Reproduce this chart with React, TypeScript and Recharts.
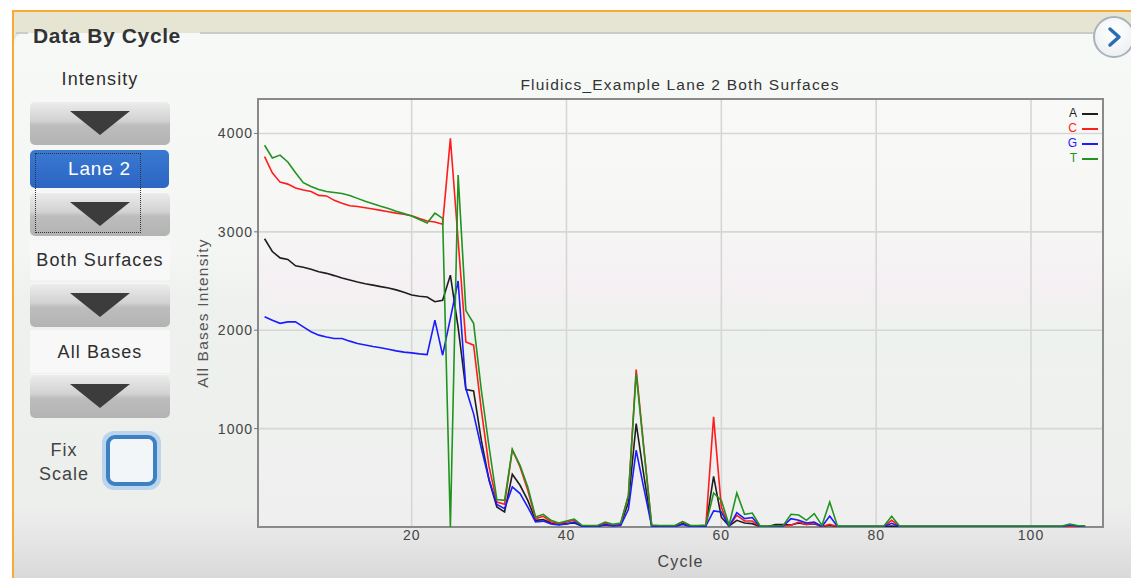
import React from "react";
import {
  LineChart,
  Line,
  XAxis,
  YAxis,
  CartesianGrid,
  ReferenceArea,
  Legend,
} from "recharts";

// intensity per cycle (cycles 1..107), one array per base
const intensityA = [
  2930, 2800, 2735, 2720, 2655, 2640, 2620, 2595, 2578, 2555,
  2530, 2510, 2490, 2472, 2458, 2443, 2430, 2410, 2385, 2358,
  2345, 2338, 2290, 2305, 2560, 2030, 1397, 1383, 880, 475,
  203, 153, 536, 424, 271, 68, 75, 41, 27, 34,
  41, 10, 8, 8, 30, 15, 25, 250, 1052, 520,
  12, 8, 8, 8, 35, 10, 8, 10, 515, 100,
  10, 68, 41, 34, 5, 5, 25, 25, 20, 41,
  27, 34, 5, 17, 5, 5, 5, 5, 5, 5,
  5, 10, 5, 5, 5, 5, 5, 5, 5, 5,
  5, 5, 5, 5, 5, 5, 5, 5, 5, 5,
  5, 5, 5, 5, 5, 8, 5,
];

const intensityC = [
  3765, 3600, 3505, 3485, 3445, 3425, 3410, 3370, 3365, 3320,
  3290, 3265, 3258, 3245, 3232, 3218, 3204, 3190, 3178, 3163,
  3135, 3110, 3100, 3078, 3950, 2915, 1881, 1848, 1187, 610,
  254, 231, 787, 610, 373, 85, 109, 51, 34, 51,
  68, 12, 10, 10, 40, 20, 35, 320, 1601, 800,
  15, 10, 10, 10, 55, 12, 10, 15, 1119, 200,
  10, 119, 61, 61, 5, 5, 8, 10, 17, 51,
  27, 41, 5, 27, 5, 5, 5, 5, 5, 5,
  8, 68, 8, 5, 5, 5, 5, 5, 5, 5,
  5, 5, 5, 5, 5, 5, 5, 5, 5, 5,
  5, 5, 5, 5, 10, 8, 5,
];

const intensityG = [
  2136, 2102, 2070, 2085, 2085, 2034, 1985, 1950, 1932, 1916,
  1916, 1889, 1865, 1850, 1835, 1822, 1807, 1790, 1777, 1770,
  1760, 1753, 2102, 1746, 2120, 2500, 1407, 1150, 800, 480,
  230, 187, 407, 340, 203, 51, 60, 30, 20, 30,
  50, 8, 5, 5, 20, 10, 15, 180, 780, 390,
  10, 5, 5, 5, 25, 5, 5, 10, 163, 153,
  5, 146, 85, 96, 5, 5, 5, 10, 85, 68,
  41, 51, 5, 112, 5, 5, 5, 5, 5, 5,
  5, 38, 5, 5, 5, 5, 5, 5, 5, 5,
  5, 5, 5, 5, 5, 5, 5, 5, 5, 5,
  5, 5, 5, 5, 20, 10, 5,
];

const intensityT = [
  3880, 3750, 3780, 3710, 3600, 3500, 3460, 3430, 3410, 3400,
  3390, 3370, 3340, 3310, 3285, 3260, 3238, 3210, 3185, 3160,
  3125, 3090, 3190, 3136, 0, 3577, 2200, 2070, 1390, 813,
  279, 271, 787, 627, 407, 102, 129, 68, 41, 61,
  81, 17, 15, 15, 50, 27, 40, 320, 1560, 780,
  20, 15, 15, 15, 55, 15, 15, 20, 346, 271,
  20, 346, 129, 142, 10, 10, 12, 15, 129, 122,
  68, 136, 17, 254, 10, 10, 10, 10, 10, 10,
  10, 109, 10, 10, 10, 10, 10, 10, 10, 10,
  10, 10, 10, 10, 10, 10, 10, 10, 10, 10,
  10, 10, 10, 10, 30, 15, 10,
];

const bases = ["A", "C", "G", "T"];
const baseColors = ["#1e1e1e", "#ff1c1c", "#1c1cff", "#1f941f"];
const xTicks = [20, 40, 60, 80, 100];
const yTicks = [1000, 2000, 3000, 4000];

const data = intensityA.map((a, i) => ({
  cycle: i + 1,
  A: a,
  C: intensityC[i],
  G: intensityG[i],
  T: intensityT[i],
}));

const FONT = '"Liberation Sans", Arial, sans-serif';

const LegendBox = ({ payload }: any) => (
  <div style={{ display: "flex", flexDirection: "column", alignItems: "flex-end" }}>
    {(payload || []).map((p: any) => (
      <div
        key={p.value}
        style={{ display: "flex", alignItems: "center", height: 15, fontSize: 12, color: p.color, lineHeight: "15px" }}
      >
        <span>{p.value}</span>
        <span style={{ width: 16, height: 2, background: p.color, marginLeft: 5 }} />
      </div>
    ))}
  </div>
);

const DropButton = ({ top }: { top: number }) => (
  <div
    style={{
      position: "absolute",
      left: 30,
      top,
      width: 140,
      height: 44,
      borderRadius: 5,
      background: "linear-gradient(#ededed, #d2d2d2 45%, #bdbdbd 55%, #b3b3b3)",
      boxShadow: "inset 0 1px 0 #f8f8f8",
    }}
  >
    <div
      style={{
        position: "absolute",
        left: 40,
        top: 10,
        width: 0,
        height: 0,
        borderLeft: "30px solid transparent",
        borderRight: "30px solid transparent",
        borderTop: "24px solid #3c3c3c",
      }}
    />
  </div>
);

const labelText: React.CSSProperties = {
  position: "absolute",
  left: 30,
  width: 140,
  textAlign: "center",
  fontSize: 18,
  letterSpacing: 1.1,
  color: "#2e2e2e",
};

export default function App() {
  return (
    <div
      style={{
        position: "fixed",
        left: 0,
        top: 0,
        width: 1131,
        height: 578,
        overflow: "hidden",
        background: "#fff",
        fontFamily: FONT,
      }}
    >
      {/* orange frame + header band */}
      <div style={{ position: "absolute", left: 12, top: 10, right: 0, bottom: 0, borderTop: "2px solid #f8aa35", borderLeft: "2px solid #f8aa35", background: "#e6e5d4" }} />
      <div
        style={{
          position: "absolute",
          left: 14,
          top: 33,
          width: 1117,
          height: 545,
          borderTopLeftRadius: 10,
          background:
            "linear-gradient(#f7f9f7 0px, #f4f6f4 220px, #eef1ee 265px, #edefed 470px, #e6e6e6 505px, #d9d9d9 545px)",
        }}
      />
      <div style={{ position: "absolute", left: 16, top: 32, width: 12, height: 2, background: "#c9ccc9" }} />
      <div style={{ position: "absolute", left: 200, top: 32, width: 895, height: 2, background: "#c9ccc9" }} />
      <div style={{ position: "absolute", left: 33, top: 22, fontSize: 21, fontWeight: "bold", color: "#333", letterSpacing: 0.6, lineHeight: "28px" }}>
        Data By Cycle
      </div>

      {/* round arrow button */}
      <div
        style={{
          position: "absolute",
          left: 1093,
          top: 16,
          width: 38,
          height: 38,
          borderRadius: "50%",
          border: "2px solid #a9b2ba",
          background: "radial-gradient(circle at 50% 35%, #ffffff, #e8ecef)",
        }}
      >
        <svg width={38} height={38} style={{ position: "absolute", left: 0, top: 0 }}>
          <polyline points="15,11 24,19 15,27" fill="none" stroke="#2a6db5" strokeWidth={3.5} strokeLinecap="round" strokeLinejoin="round" />
        </svg>
      </div>

      {/* left controls */}
      <div style={{ ...labelText, top: 67, lineHeight: "24px" }}>Intensity</div>
      <DropButton top={101} />
      <div
        style={{
          position: "absolute",
          left: 30,
          top: 150,
          width: 139,
          height: 38,
          borderRadius: 5,
          background: "linear-gradient(#3a79d2, #2c65c2)",
          color: "#fff",
          fontSize: 19,
          letterSpacing: 0.8,
          textAlign: "center",
          lineHeight: "38px",
        }}
      >
        Lane 2
      </div>
      <DropButton top={192} />
      <div style={{ position: "absolute", left: 35, top: 153, width: 104, height: 78, border: "1px dotted #333" }} />

      <div style={{ position: "absolute", left: 30, top: 240, width: 140, height: 40, background: "#f8f8f8" }} />
      <div style={{ ...labelText, top: 248, lineHeight: "24px" }}>Both Surfaces</div>
      <DropButton top={283} />

      <div style={{ position: "absolute", left: 30, top: 330, width: 140, height: 43, background: "#f8f8f8" }} />
      <div style={{ ...labelText, top: 340, lineHeight: "24px" }}>All Bases</div>
      <DropButton top={374} />

      <div style={{ position: "absolute", left: 24, top: 438, width: 80, textAlign: "center", fontSize: 18, letterSpacing: 1, color: "#444", lineHeight: "24px" }}>
        Fix
        <br />
        Scale
      </div>
      <div style={{ position: "absolute", left: 102, top: 431, width: 59, height: 59, borderRadius: 12, background: "#bcd5ec" }} />
      <div style={{ position: "absolute", left: 106, top: 435, width: 43, height: 43, borderRadius: 9, border: "4px solid #3d80c3", background: "#f3f6f9" }} />

      {/* chart title */}
      <div style={{ position: "absolute", left: 380, top: 75, width: 600, textAlign: "center", fontSize: 15.5, letterSpacing: 1.2, color: "#333", lineHeight: "20px" }}>
        Fluidics_Example Lane 2 Both Surfaces
      </div>

      <div style={{ position: "absolute", left: 190, top: 60 }}>
        <LineChart width={941} height={518} data={data} margin={{ top: 39, right: 28, bottom: 7, left: 8 }}>
          <defs>
            <linearGradient id="plotBg" x1="0" y1="0" x2="0" y2="1">
              <stop offset="0%" stopColor="#f9faf8" />
              <stop offset="30%" stopColor="#f6f6f5" />
              <stop offset="44%" stopColor="#f5f0f3" />
              <stop offset="54%" stopColor="#eef2ee" />
              <stop offset="75%" stopColor="#eff1ef" />
              <stop offset="100%" stopColor="#efefef" />
            </linearGradient>
          </defs>
          <CartesianGrid fill="url(#plotBg)" stroke="#d6d6d6" strokeWidth={1.6} />
          <XAxis
            dataKey="cycle"
            type="number"
            domain={[0.15, 109.3]}
            ticks={xTicks}
            allowDataOverflow
            axisLine={false}
            tickSize={0}
            tickMargin={3}
            height={44}
            tick={{ fill: "#444", fontSize: 14, letterSpacing: 1 }}
            label={{ value: "Cycle", position: "insideBottom", offset: 4, fill: "#444", fontSize: 16, letterSpacing: 1.2 }}
          />
          <YAxis
            type="number"
            domain={[0, 4350]}
            ticks={yTicks}
            allowDataOverflow
            width={60}
            axisLine={false}
            tickSize={4}
            tickMargin={1}
            tickLine={{ stroke: "#777" }}
            tick={{ fill: "#444", fontSize: 14, letterSpacing: 1 }}
            label={{
              value: "All Bases Intensity",
              angle: -90,
              position: "insideLeft",
              offset: 4,
              fill: "#555",
              fontSize: 15.5,
              letterSpacing: 1.2,
              style: { textAnchor: "middle" },
            }}
          />
          <ReferenceArea x1={0.15} x2={109.3} y1={0} y2={4350} fill="none" stroke="#8a8a8a" strokeWidth={2} />
          <Legend
            content={<LegendBox />}
            layout="vertical"
            align="center"
            verticalAlign="middle"
            wrapperStyle={{ top: 46, left: 858, width: 50 }}
          />
          {bases.map((b, i) => (
            <Line
              key={b}
              type="linear"
              dataKey={b}
              stroke={baseColors[i]}
              strokeWidth={1.6}
              dot={false}
              isAnimationActive={false}
            />
          ))}
        </LineChart>
      </div>
    </div>
  );
}
